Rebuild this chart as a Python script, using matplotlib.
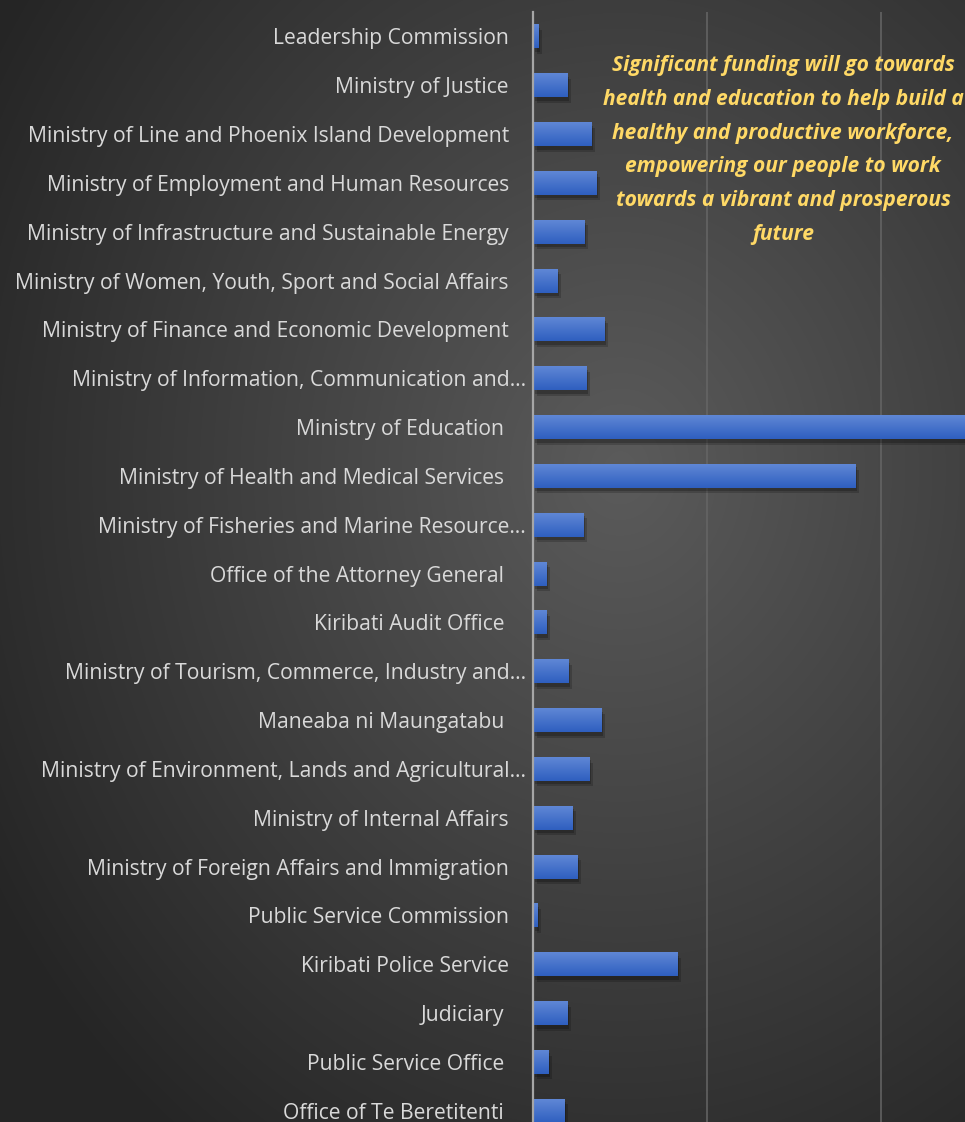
import numpy as np
import matplotlib.pyplot as plt
import matplotlib.patheffects as pe
from matplotlib.colors import LinearSegmentedColormap

ministries = [
    "Leadership Commission",
    "Ministry of Justice",
    "Ministry of Line and Phoenix Island Development",
    "Ministry of Employment and Human Resources",
    "Ministry of Infrastructure and Sustainable Energy",
    "Ministry of Women, Youth, Sport and Social Affairs",
    "Ministry of Finance and Economic Development",
    "Ministry of Information, Communication and…",
    "Ministry of Education ",
    "Ministry of Health and Medical Services ",
    "Ministry of Fisheries and Marine Resource…",
    "Office of the Attorney General ",
    "Kiribati Audit Office ",
    "Ministry of Tourism, Commerce, Industry and…",
    "Maneaba ni Maungatabu ",
    "Ministry of Environment, Lands and Agricultural…",
    "Ministry of Internal Affairs",
    "Ministry of Foreign Affairs and Immigration",
    "Public Service Commission",
    "Kiribati Police Service",
    "Judiciary ",
    "Public Service Office ",
    "Office of Te Beretitenti ",
]
# budget (gridline step = 10)
budget = [0.32, 1.98, 3.36, 3.65, 2.96, 1.41, 4.11, 3.07, 26.0, 18.53, 2.90, 0.78,
          0.78, 2.04, 3.94, 3.25, 2.27, 2.56, 0.26, 8.30, 1.98, 0.89, 1.81]

note = ("Significant funding will go towards\n"
        "health and education to help build a\n"
        "healthy and productive workforce,\n"
        "empowering our people to work\n"
        "towards a vibrant and prosperous\n"
        "future")

W, H = 965, 1122
fig = plt.figure(figsize=(W / 100, H / 100), dpi=100)

# radial grey background
bg = fig.add_axes([0, 0, 1, 1], zorder=-10)
yy, xx = np.mgrid[0:H, 0:W]
r = np.hypot((xx - 620) / W, (yy - 470) / H)
r = np.clip(r / 0.75, 0, 1)
shade = 0.36 - 0.21 * r
bg.imshow(shade, cmap="gray", vmin=0, vmax=1, aspect="auto", extent=[0, 1, 0, 1])
bg.axis("off")

ax = fig.add_axes([532.5 / W, 0, 1 - 532.5 / W, 1 - 12 / H])
ax.patch.set_alpha(0)
ypos = np.arange(len(ministries))
shadow = [pe.SimplePatchShadow(offset=(3, -4), shadow_rgbFace="black", alpha=0.18),
          pe.SimplePatchShadow(offset=(1.5, -2.5), shadow_rgbFace="black", alpha=0.22),
          pe.Normal()]
bars = ax.barh(ypos, budget, height=0.49, color="#4472c4", zorder=3, path_effects=shadow)

# vertical gradient inside each bar
grad = np.linspace(0, 1, 64).reshape(-1, 1)
cm = LinearSegmentedColormap.from_list("b", ["#5f87d6", "#2f5fbf"])
for b in bars:
    x0, y0 = b.get_x(), b.get_y()
    im = ax.imshow(grad, cmap=cm, aspect="auto", zorder=4,
                   extent=[x0, x0 + b.get_width(), y0 + b.get_height(), y0], origin="upper")
    im.set_clip_path(b)

ax.set_xlim(0, (W - 532.5) / 17.4)
ax.set_ylim(22.23, -0.5)
ax.set_xticks([10, 20])
ax.set_xticklabels([])
ax.tick_params(axis="x", length=0)
ax.grid(axis="x", color="#666666", lw=1.1, zorder=0)
for s in ["top", "right", "bottom"]:
    ax.spines[s].set_visible(False)
ax.spines["left"].set_color("#a6a6a6")
ax.spines["left"].set_linewidth(1.6)
ax.spines["left"].set_zorder(5)

ax.set_yticks(ypos)
ax.set_yticklabels([m.strip() for m in ministries], family="Open Sans", fontsize=15.2, color="#d9d9d9")
ax.tick_params(axis="y", length=0)
for tick, m in zip(ax.yaxis.get_major_ticks(), ministries):
    if m.endswith("…"):
        tick.set_pad(4.7)
    elif m.endswith(" "):
        tick.set_pad(20.5)
    else:
        tick.set_pad(17)

fig.text(783 / W, 1 - 150 / H, note, ha="center", va="center", multialignment="center",
         family="Open Sans", weight="bold", style="italic", fontsize=15.1, color="#ffd966", linespacing=1.8)

fig.savefig("out.png", dpi=100)
